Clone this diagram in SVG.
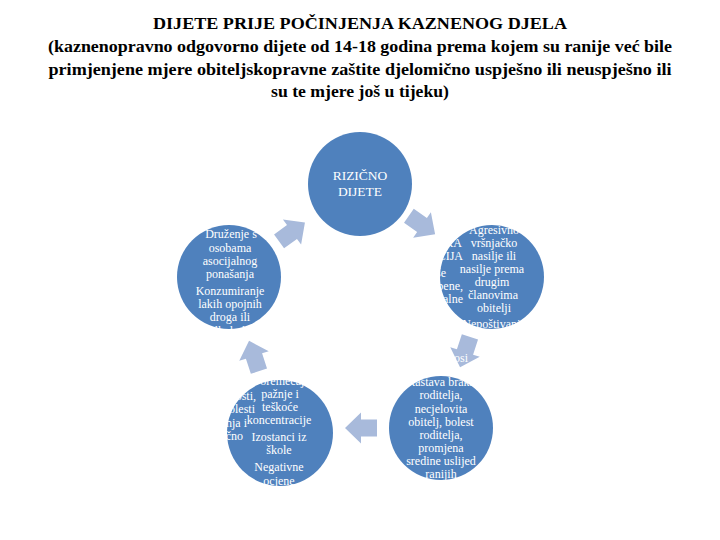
<svg xmlns="http://www.w3.org/2000/svg" width="720" height="540" viewBox="0 0 720 540">
<defs>
<style>
.title{font-family:"Liberation Serif","Times New Roman",serif;font-weight:bold;font-size:17px;fill:#000;text-anchor:middle}
.node{fill:#4F81BD}
.t{font-family:"Liberation Serif","Times New Roman",serif;font-size:12px;fill:#fff;text-anchor:middle}
.te{font-family:"Liberation Serif","Times New Roman",serif;font-size:12px;fill:#fff;text-anchor:end}
.tc{font-family:"Liberation Serif","Times New Roman",serif;font-size:13.5px;fill:#fff;text-anchor:middle}
.arrow{fill:#A8BADB}
</style>
<path id="arr" d="M-16,-8.5 L0,-8.5 L0,-15.5 L16,0 L0,15.5 L0,8.5 L-16,8.5 Z"/>
</defs>
<rect width="720" height="540" fill="#fff"/>
<g id="title">
<text class="title" x="360" y="29" textLength="414" lengthAdjust="spacingAndGlyphs">DIJETE PRIJE POČINJENJA KAZNENOG DJELA</text>
<text class="title" x="360" y="52" textLength="624" lengthAdjust="spacingAndGlyphs">(kaznenopravno odgovorno dijete od 14-18 godina prema kojem su ranije već bile</text>
<text class="title" x="360" y="75" textLength="623" lengthAdjust="spacingAndGlyphs">primjenjene mjere obiteljskopravne zaštite djelomično uspješno ili neuspješno ili</text>
<text class="title" x="360" y="97" textLength="178" lengthAdjust="spacingAndGlyphs">su te mjere još u tijeku)</text>
</g>
<g id="connectors">
<use href="#arr" class="arrow" transform="translate(292,232) rotate(-36)"/>
<use href="#arr" class="arrow" transform="translate(422,225) rotate(35)"/>
<use href="#arr" class="arrow" transform="translate(465,352) rotate(108)"/>
<use href="#arr" class="arrow" transform="translate(361,428) rotate(180)"/>
<use href="#arr" class="arrow" transform="translate(254,356) rotate(-108)"/>
</g>
<g id="node-center">
<circle class="node" cx="360" cy="184" r="52"/>
<text class="tc" x="360" y="180">RIZIČNO</text>
<text class="tc" x="360" y="196">DIJETE</text>
</g>
<g id="node-right">
<circle class="node" cx="492" cy="277" r="52"/>
<text class="t" x="494" y="234">Agresivno</text>
<text class="t" x="494" y="247">vršnjačko</text>
<text class="t" x="494" y="260">nasilje ili</text>
<text class="t" x="492" y="273">nasilje prema</text>
<text class="t" x="492" y="286">drugim</text>
<text class="t" x="493" y="299">članovima</text>
<text class="t" x="494" y="312">obitelji</text>
<text class="t" x="494" y="328">Nepoštivanje</text>
<text class="te" x="462" y="247">SKA</text>
<text class="te" x="463" y="260">CIJA</text>
<text class="te" x="446" y="277">oše</text>
<text class="te" x="463" y="290">bene,</text>
<text class="te" x="463" y="303">ialne</text>
</g>
<g id="node-lower-right">
<circle class="node" cx="441" cy="428" r="52"/>
<text class="t" x="461" y="362">osi</text>
<text class="t" x="441" y="386">Rastava braka</text>
<text class="t" x="441" y="399">roditelja,</text>
<text class="t" x="441" y="413">necjelovita</text>
<text class="t" x="441" y="426">obitelj, bolest</text>
<text class="t" x="441" y="439">roditelja,</text>
<text class="t" x="441" y="452">promjena</text>
<text class="t" x="441" y="465">sredine uslijed</text>
<text class="t" x="441" y="478">ranijih</text>
</g>
<g id="node-lower-left">
<circle class="node" cx="280" cy="433" r="53"/>
<text class="t" x="279" y="385">Poremećaj</text>
<text class="t" x="280" y="398">pažnje i</text>
<text class="t" x="280" y="411">teškoće</text>
<text class="t" x="279" y="424">koncentracije</text>
<text class="t" x="279" y="441">Izostanci iz</text>
<text class="t" x="279" y="454">škole</text>
<text class="t" x="279" y="471">Negativne</text>
<text class="t" x="279" y="485">ocjene</text>
<text class="te" x="256" y="400">osti,</text>
<text class="te" x="255" y="413">olesti</text>
<text class="te" x="247" y="427">renja i</text>
<text class="te" x="243" y="440">čno</text>
</g>
<g id="node-left">
<circle class="node" cx="229" cy="277" r="52"/>
<text class="t" x="231" y="238">Druženje s</text>
<text class="t" x="230" y="252">osobama</text>
<text class="t" x="230" y="265">asocijalnog</text>
<text class="t" x="230" y="278">ponašanja</text>
<text class="t" x="230" y="295">Konzumiranje</text>
<text class="t" x="230" y="308">lakih opojnih</text>
<text class="t" x="230" y="321">droga ili</text>
<text class="t" x="230" y="335">alkohola</text>
</g>
</svg>
